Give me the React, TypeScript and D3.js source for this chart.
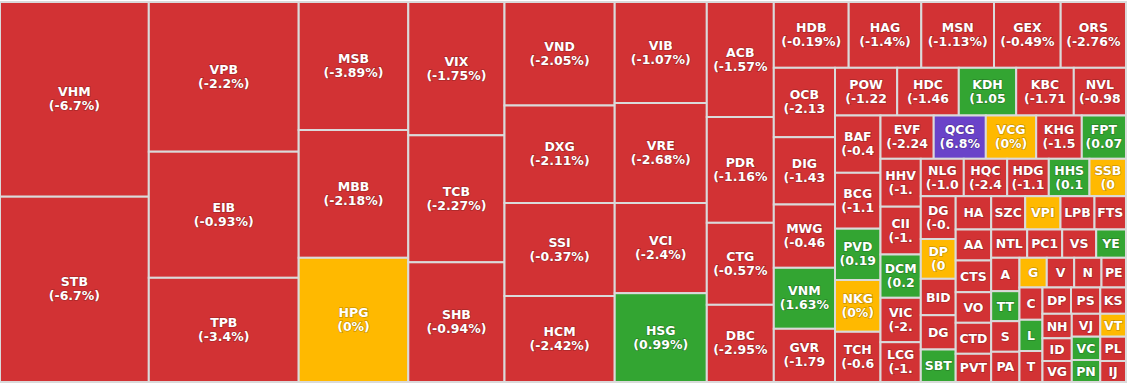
import React, { useMemo } from "react";
import * as d3 from "d3";

// ---- data ----
const tickers = [
  "VHM", "STB",
  "VPB", "EIB", "TPB",
  "MSB", "MBB", "HPG",
  "VIX", "TCB", "SHB",
  "VND", "DXG", "SSI", "HCM",
  "VIB", "VRE", "VCI", "HSG",
  "ACB", "PDR", "CTG", "DBC",
  "HDB", "HAG", "MSN", "GEX", "ORS",
  "OCB", "DIG", "MWG", "VNM", "GVR",
  "POW", "HDC", "KDH", "KBC", "NVL",
  "BAF", "BCG", "PVD", "NKG", "TCH",
  "EVF", "QCG", "VCG", "KHG", "FPT",
  "HHV", "CII", "DCM", "VIC", "LCG",
  "NLG", "HQC", "HDG", "HHS", "SSB",
  "DG", "DP", "BID", "DG", "SBT",
  "HA", "SZC", "VPI", "LPB", "FTS",
  "AA", "CTS", "VO", "CTD", "PVT",
  "NTL", "PC1", "VS", "YE",
  "A", "TT", "S", "PA",
  "G", "V", "N", "PE",
  "C", "L", "T",
  "DP", "PS", "KS",
  "NH", "ID", "VG",
  "VJ", "VT",
  "VC", "PN",
  "PL",
  "IJ",
];

const changes = [
  -6.7, -6.7,
  -2.2, -0.93, -3.4,
  -3.89, -2.18, 0,
  -1.75, -2.27, -0.94,
  -2.05, -2.11, -0.37, -2.42,
  -1.07, -2.68, -2.4, 0.99,
  -1.57, -1.16, -0.57, -2.95,
  -0.19, -1.4, -1.13, -0.49, -2.76,
  -2.13, -1.43, -0.46, 1.63, -1.79,
  -1.22, -1.46, 1.05, -1.71, -0.98,
  -0.45, -1.15, 0.19, 0, -0.63,
  -2.24, 6.8, 0, -1.52, 0.07,
  -1.36, -1.22, 0.26, -2.03, -1.51,
  -1.06, -2.44, -1.14, 0.17, 0,
  -0.63, 0, -0.86, -1.2, 0.5,
  -1.5, -2.1, 0, -1.3, -2.5,
  -3.1, -2.4, -0.8, -1.9, -1.6,
  -0.7, -2.3, -1.4, 1.2,
  -1.8, 0.6, -0.9, -1.1,
  0, -2.0, -0.5, -3.2,
  -1.3, 0.8, -2.6,
  -0.9, -1.7, -2.2,
  -0.4, -0.6, -3.5,
  -1.2, 0,
  0.3, 0.9,
  -1.9,
  -0.7,
];

const sizes = [
  28971, 27573,
  22440, 18902, 15620,
  14029, 14007, 13612,
  12823, 12217, 11515,
  11406, 10745, 10249, 9477,
  9302, 9210, 8307, 8178,
  7705, 7089, 5494, 5172,
  4928, 4777, 4784, 4389, 4297,
  4247, 4119, 3874, 3733, 3256,
  2967, 2938, 2738, 2748, 2490,
  2607, 2543, 2334, 2357, 2284,
  2304, 2256, 2182, 1974, 1914,
  1930, 1926, 1745, 1789, 1604,
  1608, 1623, 1556, 1522, 1365,
  1494, 1389, 1270, 1197, 1134,
  1182, 1132, 1175, 1132, 1049,
  1100, 1125, 1086, 1100, 1001,
  1019, 990, 962, 843,
  945, 849, 866, 855,
  811, 814, 811, 728,
  743, 718, 713,
  750, 771, 676,
  718, 665, 615,
  653, 589,
  664, 627,
  625,
  540,
];

// how many tiles each successive squarified strip holds
const groupSizes = [2, 3, 3, 3, 4, 4, 4, 5, 5, 5, 5, 5, 5, 5, 5, 5, 5, 4, 4, 4, 3, 3, 3, 2, 2, 1, 1];

// ---- layout constants ----
const WIDTH = 1130;
const HEIGHT = 385;
const X0 = 0;
const Y0 = 2;
const X1 = 1126;
const Y1 = 382;

const COLORS = {
  down: "#d23234",
  up: "#33a532",
  flat: "#ffb900",
  ceiling: "#6a43c9",
};

function colorFor(c: number): string {
  if (c >= 6.5) return COLORS.ceiling;
  if (c > 0) return COLORS.up;
  if (c === 0) return COLORS.flat;
  return COLORS.down;
}

// squarified strips with fixed strip sizes, built from d3's dice/slice tilers
function groupedTile(parent: any, x0: number, y0: number, x1: number, y1: number) {
  const nodes = parent.children;
  let remaining = parent.value;
  let i = 0;
  for (const n of groupSizes) {
    if (i >= nodes.length) break;
    const row = nodes.slice(i, i + n);
    i += n;
    const sum = d3.sum(row, (d: any) => d.value);
    const dx = x1 - x0;
    const dy = y1 - y0;
    const strip = { children: row, value: sum };
    const last = i >= nodes.length;
    if (dx < dy) {
      const yb = last ? y1 : y0 + (dy * sum) / remaining;
      d3.treemapDice(strip as any, x0, y0, x1, yb);
      y0 = yb;
    } else {
      const xb = last ? x1 : x0 + (dx * sum) / remaining;
      d3.treemapSlice(strip as any, x0, y0, xb, y1);
      x0 = xb;
    }
    remaining -= sum;
  }
}

// label fitting (widths in em of the original bold label face)
const EM: Record<string, number> = {
  A: 0.776, B: 0.762, C: 0.724, D: 0.83, E: 0.683, F: 0.65, G: 0.811, H: 0.837,
  I: 0.545, J: 0.555, K: 0.771, L: 0.637, M: 0.948, N: 0.847, O: 0.85, P: 0.733,
  Q: 0.85, R: 0.782, S: 0.71, T: 0.682, U: 0.812, V: 0.764, W: 1.128, X: 0.771,
  Y: 0.762, Z: 0.692, "(": 0.543, ")": 0.543, "-": 0.479, ".": 0.363, "%": 1.272,
};
const FIT_SIZE = 12;
const PAD = 3.4;
const TWO_LINE_MIN_H = 37;
function textWidth(s: string): number {
  let w = 0;
  for (const ch of s) w += (EM[ch] ?? 0.711) * FIT_SIZE;
  return w;
}
function fit(s: string, avail: number): string {
  let out = "";
  for (const ch of s) {
    if (textWidth(out + ch) > avail) break;
    out += ch;
  }
  return out;
}

const FONT = "'DejaVu Sans', Verdana, sans-serif";

export default function App() {
  const leaves = useMemo(() => {
    const data = {
      name: "root",
      children: tickers.map((t, i) => ({ name: t, change: changes[i], size: sizes[i], idx: i })),
    };
    const root = d3.hierarchy<any>(data).sum((d: any) => d.size ?? 0);
    d3.treemap<any>().size([X1 - X0, Y1 - Y0]).tile(groupedTile as any)(root);
    return root.leaves() as any[];
  }, []);

  return (
    <svg
      width={WIDTH}
      height={HEIGHT}
      style={{ position: "absolute", left: 0, top: 0, background: "#fff" }}
    >
      <g transform={`translate(${X0},${Y0})`}>
        {leaves.map((d) => {
          const w = d.x1 - d.x0;
          const h = d.y1 - d.y0;
          const cx = (d.x0 + d.x1) / 2;
          const cy = (d.y0 + d.y1) / 2;
          const avail = w - 2 * PAD;
          const name = fit(d.data.name, avail);
          const pct = fit(`(${d.data.change}%)`, avail);
          const twoLines = h >= TWO_LINE_MIN_H;
          const textProps = {
            textAnchor: "middle" as const,
            fill: "#ffffff",
            stroke: "rgba(0,0,0,0.22)",
            strokeWidth: 1.5,
            paintOrder: "stroke",
            fontFamily: FONT,
            fontWeight: "bold",
            fontSize: 12.5,
          };
          return (
            <g key={d.data.idx}>
              <rect
                x={d.x0}
                y={d.y0}
                width={w}
                height={h}
                fill={colorFor(d.data.change)}
                stroke="#dadada"
                strokeWidth={2}
              />
              {twoLines ? (
                <>
                  <text x={cx} y={cy - 3} {...textProps}>{name}</text>
                  <text x={cx} y={cy + 11} {...textProps}>{pct}</text>
                </>
              ) : (
                <text x={cx} y={cy + 4.5} {...textProps}>{name}</text>
              )}
            </g>
          );
        })}
      </g>
    </svg>
  );
}
